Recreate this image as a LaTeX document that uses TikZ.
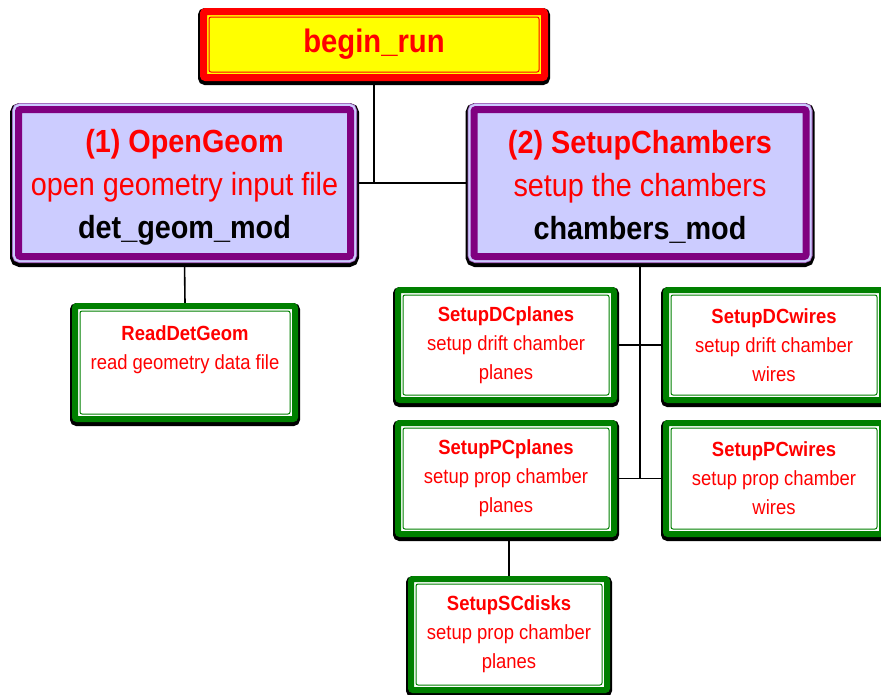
\documentclass[tikz,border=0pt]{standalone}
\usepackage{fontspec}
\setmainfont{Liberation Sans}[FakeStretch=0.9]
\usetikzlibrary{backgrounds}

\definecolor{runred}{HTML}{FF0000}
\definecolor{runyellow}{HTML}{FFFF00}
\definecolor{modpurple}{HTML}{800080}
\definecolor{modring}{HTML}{A060B8}
\definecolor{modfill}{HTML}{CCCCFF}
\definecolor{subgreen}{HTML}{008000}

% taller first line, pushes a text block slightly down in its box
\newcommand{\toppad}{\rule{0pt}{31pt}}

\tikzset{
  % inner hairline frame, drawn #1 inside the node border
  innerframe/.style n args={2}{path picture={
      \draw[#2, line width=1pt]
        ([shift={(#1,-#1)}]path picture bounding box.north west) rectangle
        ([shift={(-#1,#1)}]path picture bounding box.south east);}},
  dropshadow/.style={preaction={draw=black, line width=#1,
      transform canvas={yshift=-2pt}}},
  runbox/.style={rectangle, rounded corners=2pt, fill=runyellow, draw=runred,
    line width=7pt, dropshadow=11pt, innerframe={5.5pt}{runred},
    text=runred, font=\bfseries\fontsize{32.5}{38}\selectfont},
  modbox/.style={rectangle, rounded corners=2pt, fill=modfill, draw=modpurple,
    line width=7pt, dropshadow=17pt,
    preaction={draw=modring, line width=13pt},
    preaction={draw=modfill, line width=11.4pt},
    minimum width=332pt, minimum height=147pt, align=center,
    text=runred, font=\fontsize{32}{43}\selectfont},
  subbox/.style={rectangle, rounded corners=2pt, fill=white, draw=subgreen,
    line width=6pt, dropshadow=10pt, innerframe={5pt}{subgreen},
    align=center, text=runred, font=\fontsize{20.5}{29}\selectfont},
  link/.style={draw=black, line width=1.6pt}
}

\begin{document}
\begin{tikzpicture}[x=1pt, y=-1pt]
  \useasboundingbox (0,0) rectangle (881,694);
  \clip (0,0) rectangle (881,694);

  % top-level routine
  \node[runbox, minimum width=341pt, minimum height=66pt] (run) at (374,44.5) {begin\_run};

  % first-level modules
  \node[modbox] (geom) at (184.5,183)
    {\toppad{\bfseries (1) OpenGeom}\\open geometry input file\\{\color{black}\bfseries det\_geom\_mod}};
  \node[modbox] (cham) at (640,183)
    {\toppad{\bfseries (2) SetupChambers}\\setup the chambers\\{\color{black}\bfseries chambers\_mod}};

  % second-level routines
  \node[subbox, minimum width=220pt, minimum height=113pt] (rdg) at (185,362.5)
    {{\bfseries ReadDetGeom}\\read geometry data file\\\mbox{}};
  \node[subbox, minimum width=216pt, minimum height=110pt] (dcp) at (506,345)
    {{\bfseries SetupDCplanes}\\setup drift chamber\\planes};
  \node[subbox, minimum width=216pt, minimum height=110pt] (dcw) at (774,345)
    {{\bfseries SetupDCwires}\\setup drift chamber\\wires};
  \node[subbox, minimum width=216pt, minimum height=111pt] (pcp) at (506,478.5)
    {{\bfseries SetupPCplanes}\\setup prop chamber\\planes};
  \node[subbox, minimum width=216pt, minimum height=111pt] (pcw) at (774,478.5)
    {{\bfseries SetupPCwires}\\setup prop chamber\\wires};
  \node[subbox, minimum width=196pt, minimum height=111pt] (scd) at (509,634.5)
    {{\bfseries SetupSCdisks}\\setup prop chamber\\planes};

  % call tree connectors
  \begin{scope}[on background layer]
    \draw[link] (run.south) -- (run.south |- geom.east);
    \draw[link] (geom.east) -- (cham.west);
    \draw[link] (geom.south) -- (rdg.north);
    \coordinate (trunkend) at (cham.south |- pcp.east);
    \draw[link] (cham.south) -- (trunkend);
    \draw[link] (dcp.east) -- (dcw.west);
    \draw[link] (pcp.east) -- (pcw.west);
    \draw[link] (scd.north) -- (scd.north |- pcp.south);
  \end{scope}
\end{tikzpicture}
\end{document}
